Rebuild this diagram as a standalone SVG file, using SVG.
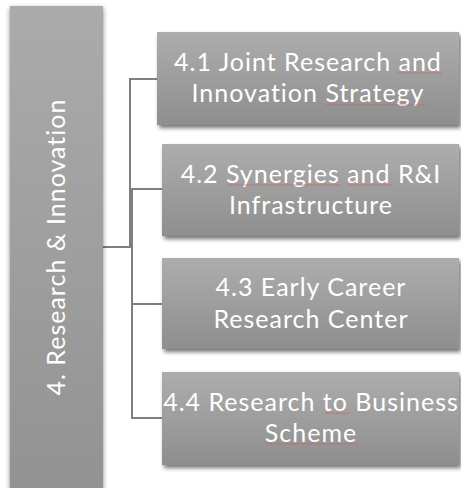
<svg xmlns="http://www.w3.org/2000/svg" width="461" height="488" viewBox="0 0 461 488">
<defs>
<linearGradient id="gBox" x1="0" y1="0" x2="0" y2="1">
<stop offset="0" stop-color="#adadad"/>
<stop offset="1" stop-color="#8e8e8e"/>
</linearGradient>
<linearGradient id="gMain" x1="0" y1="0" x2="0" y2="1">
<stop offset="0" stop-color="#ababab"/>
<stop offset="1" stop-color="#929292"/>
</linearGradient>
<filter id="sh" x="-10%" y="-10%" width="125%" height="130%">
<feGaussianBlur in="SourceAlpha" stdDeviation="2"/>
<feOffset dx="1.5" dy="3" result="b"/>
<feComponentTransfer><feFuncA type="linear" slope="0.55"/></feComponentTransfer>
<feMerge><feMergeNode/><feMergeNode in="SourceGraphic"/></feMerge>
</filter>
<filter id="shMain" x="-20%" y="-5%" width="140%" height="110%">
<feGaussianBlur in="SourceAlpha" stdDeviation="2.5"/>
<feOffset dx="0" dy="2" result="b"/>
<feComponentTransfer><feFuncA type="linear" slope="0.5"/></feComponentTransfer>
<feMerge><feMergeNode/><feMergeNode in="SourceGraphic"/></feMerge>
</filter>
</defs>
<style>
.box{fill:url(#gBox);filter:url(#sh)}
.t{font-family:Lato,"Liberation Sans",sans-serif;font-size:25px;letter-spacing:1px;fill:#ffffff;text-anchor:middle}
.c{fill:none;stroke:#7f7f7f;stroke-width:2}
.sp{fill:none;stroke:#e05a5a;stroke-width:0.8;stroke-opacity:0.8}
</style>
<g id="connectors">
<path class="c" d="M103 247 H130 V79 H157"/>
<path class="c" d="M103 247 H132 V189 H162"/>
<path class="c" d="M103 247 H132 V304 H162"/>
<path class="c" d="M103 247 H132 V418 H162"/>
</g>
<g id="n0">
<rect x="10" y="6" width="93" height="490" fill="url(#gMain)" filter="url(#shMain)"/>
<text class="t" transform="translate(65 247) rotate(-90)" x="0" y="0">4. Research &amp; Innovation</text>
</g>
<g id="n1">
<rect class="box" x="157" y="32" width="302" height="93"/>
<text class="t" x="308" y="71">4.1 Joint Research and</text>
<text class="t" x="308" y="102">Innovation Strategy</text>
<path class="sp" d="M397 73 H442 M326 105 H425"/>
</g>
<g id="n2">
<rect class="box" x="162" y="144" width="297" height="92"/>
<text class="t" x="311" y="183">4.2 Synergies and R&amp;I</text>
<text class="t" x="311" y="214">Infrastructure</text>
<path class="sp" d="M227 185 H341 M348 185 H391"/>
</g>
<g id="n3">
<rect class="box" x="162" y="258" width="297" height="91"/>
<text class="t" x="311" y="296">4.3 Early Career</text>
<text class="t" x="311" y="328">Research Center</text>
</g>
<g id="n4">
<rect class="box" x="162" y="372" width="297" height="93"/>
<text class="t" x="311" y="411">4.4 Research to Business</text>
<text class="t" x="311" y="442">Scheme</text>
<path class="sp" d="M325 413 H350 M266 444 H359"/>
</g>
</svg>
